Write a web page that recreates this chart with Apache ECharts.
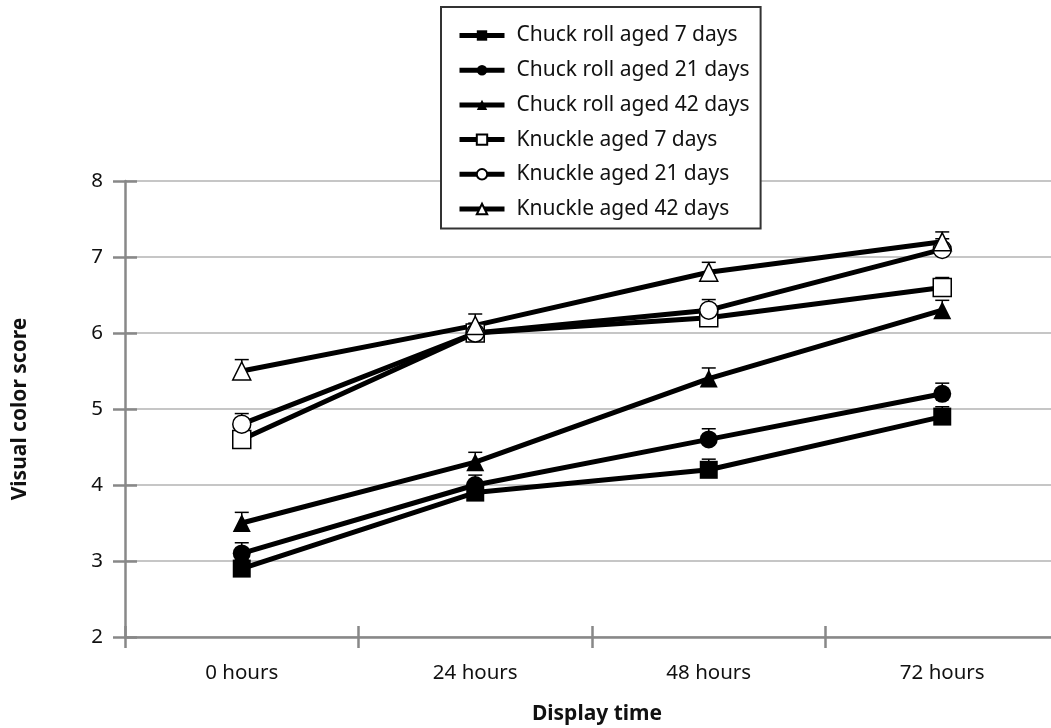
<!DOCTYPE html>
<html>
<head>
<meta charset="utf-8">
<script src="https://cdn.jsdelivr.net/npm/echarts@6/dist/echarts.min.js"></script>
<style>html,body{margin:0;padding:0;background:#fff}#c{width:1051px;height:728px}</style>
</head>
<body>
<div id="c"></div>
<script>
const categories = ['0 hours', '24 hours', '48 hours', '72 hours'];
const seriesNames = ['Chuck roll aged 7 days', 'Chuck roll aged 21 days', 'Chuck roll aged 42 days',
  'Knuckle aged 7 days', 'Knuckle aged 21 days', 'Knuckle aged 42 days'];
const chuck7 = [2.9, 3.9, 4.2, 4.9];
const chuck21 = [3.1, 4.0, 4.6, 5.2];
const chuck42 = [3.5, 4.3, 5.4, 6.3];
const knuckle7 = [4.6, 6.0, 6.2, 6.6];
const knuckle21 = [4.8, 6.0, 6.3, 7.1];
const knuckle42 = [5.5, 6.1, 6.8, 7.2];
const errChuck7 = [0.12, 0.13, 0.14, 0.13];
const errChuck21 = [0.14, 0.13, 0.14, 0.14];
const errChuck42 = [0.14, 0.13, 0.14, 0.13];
const errKnuckle7 = [0.13, 0.12, 0.13, 0.13];
const errKnuckle21 = [0.14, 0.13, 0.14, 0.14];
const errKnuckle42 = [0.15, 0.15, 0.13, 0.13];
const yTicks = [2, 3, 4, 5, 6, 7, 8];

const values = [chuck7, chuck21, chuck42, knuckle7, knuckle21, knuckle42];
const errors = [errChuck7, errChuck21, errChuck42, errKnuckle7, errKnuckle21, errKnuckle42];
const symbols = ['rect', 'circle', 'triangle', 'rect', 'circle', 'triangle'];
const filled = [true, true, true, false, false, false];

const FONT = 'Noto Sans';
const chart = echarts.init(document.getElementById('c'));

const series = [];
values.forEach((vals, i) => {
  series.push({
    type: 'custom',
    name: 'err' + i,
    z: 2,
    silent: true,
    data: vals.map((v, j) => [j, v, errors[i][j]]),
    renderItem: function (params, api) {
      const p = api.coord([api.value(0), api.value(1)]);
      const t = api.coord([api.value(0), api.value(1) + api.value(2)]);
      return {
        type: 'group',
        children: [
          { type: 'line', shape: { x1: p[0], y1: p[1], x2: p[0], y2: t[1] }, style: { stroke: '#000', lineWidth: 1.5 } },
          { type: 'line', shape: { x1: p[0] - 7, y1: t[1], x2: p[0] + 7, y2: t[1] }, style: { stroke: '#000', lineWidth: 1.5 } }
        ]
      };
    }
  });
});
values.forEach((vals, i) => {
  series.push({
    type: 'line',
    name: seriesNames[i],
    z: 3,
    data: vals,
    symbol: symbols[i],
    symbolSize: 18,
    showAllSymbol: true,
    lineStyle: { color: '#000', width: 5 },
    itemStyle: filled[i]
      ? { color: '#000', borderColor: '#000', borderWidth: 0 }
      : { color: '#fff', borderColor: '#000', borderWidth: 1.5 },
    emphasis: { disabled: true },
    animation: false
  });
});

chart.setOption({
  animation: false,
  backgroundColor: '#fff',
  grid: { left: 125, right: -8, top: 181, bottom: 91, containLabel: false, outerBoundsMode: 'none' },
  legend: {
    data: seriesNames,
    orient: 'vertical',
    left: 441,
    top: 7,
    padding: [18, 11, 9, 16],
    itemGap: 13.7,
    itemWidth: 45,
    itemHeight: 13,
    backgroundColor: '#fff',
    borderColor: '#333',
    borderWidth: 2,
    borderRadius: 0,
    lineStyle: { width: 5, color: '#000' },
    textStyle: { fontFamily: FONT, fontSize: 21, color: '#111', padding: [0, 0, 0, 7] }
  },
  xAxis: [{
    type: 'category',
    data: categories,
    boundaryGap: true,
    name: 'Display time',
    nameLocation: 'middle',
    nameGap: 67,
    nameTextStyle: { fontFamily: FONT, fontSize: 21, fontWeight: 'bold', color: '#111', padding: [0, 0, 0, 10] },
    axisLine: { lineStyle: { color: '#888', width: 2.5 } },
    axisTick: { show: true, length: 11, lineStyle: { color: '#888', width: 2.5 } },
    axisLabel: { fontFamily: FONT, fontSize: 20.5, color: '#111', margin: 26 },
    splitLine: { show: false }
  }, {
    type: 'category',
    data: categories,
    boundaryGap: true,
    position: 'bottom',
    axisLine: { show: false },
    axisTick: { show: true, inside: true, length: 11, lineStyle: { color: '#888', width: 2.5 } },
    axisLabel: { show: false },
    splitLine: { show: false }
  }],
  yAxis: [{
    type: 'value',
    min: 2, max: 8, interval: 1,
    name: 'Visual color score',
    nameLocation: 'middle',
    nameGap: 94,
    nameRotate: 90,
    nameTextStyle: { fontFamily: FONT, fontSize: 21, fontWeight: 'bold', color: '#111' },
    axisLine: { show: true, lineStyle: { color: '#888', width: 2.5 } },
    axisTick: { show: true, length: 12, lineStyle: { color: '#888', width: 2.5 } },
    axisLabel: { fontFamily: FONT, fontSize: 20.5, color: '#111', margin: 22,
      formatter: v => yTicks.includes(v) ? String(v) : '' },
    splitLine: { show: true, lineStyle: { color: '#b3b3b3', width: 1.5 } }
  }, {
    type: 'value',
    min: 2, max: 8, interval: 1,
    position: 'left',
    axisLine: { show: false },
    axisTick: { show: true, inside: true, length: 12, lineStyle: { color: '#888', width: 2.5 } },
    axisLabel: { show: false },
    splitLine: { show: false }
  }],
  series: series
});
</script>
</body>
</html>
